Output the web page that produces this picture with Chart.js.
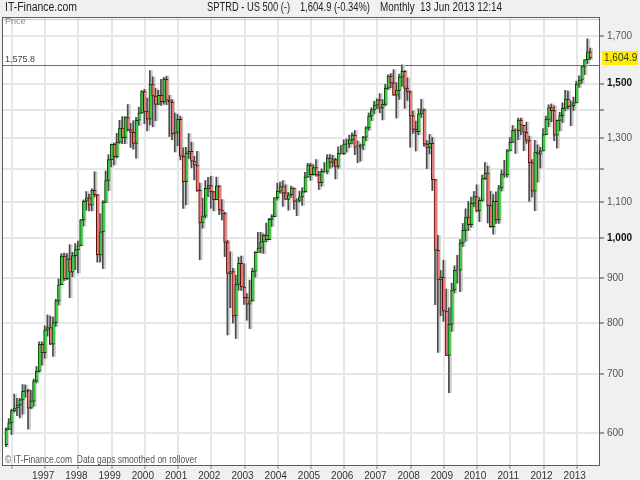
<!DOCTYPE html>
<html><head><meta charset="utf-8">
<style>html,body{margin:0;padding:0;background:#f0f0f0;overflow:hidden}</style>
<script src="https://cdn.jsdelivr.net/npm/chart.js@4.4.1/dist/chart.umd.min.js"></script>
</head><body>
<canvas id="c" width="640" height="480"></canvas>
<script>
// Monthly candles, Nov 1995 .. Jun 2013 (index 0 = Nov 1995)
const open = [
581.5,605.4,
615.9,636.0,640.4,645.5,654.2,669.1,670.6,640.0,652.0,687.3,705.3,757.0,
740.7,786.2,790.8,757.1,801.3,848.3,885.1,954.3,899.5,947.3,914.6,955.4,
970.4,980.3,1049.3,1101.8,1111.8,1090.8,1133.8,1120.7,957.3,1017.0,1098.7,1163.6,
1229.2,1279.6,1238.3,1286.4,1335.2,1301.8,1372.7,1328.7,1320.4,1282.7,1362.9,1388.9,
1469.3,1394.5,1366.4,1498.6,1452.4,1420.6,1454.6,1430.8,1517.7,1436.5,1429.4,1315.0,
1320.3,1366.0,1239.9,1160.3,1249.5,1255.8,1224.4,1211.2,1133.6,1040.9,1059.8,1139.5,
1148.1,1130.2,1106.7,1147.4,1076.9,1067.1,989.8,911.6,916.1,815.3,885.8,936.3,
879.8,855.7,841.2,848.2,916.9,963.6,974.5,990.3,1008.0,996.0,1050.7,1058.2,
1111.9,1131.1,1144.9,1126.2,1107.3,1120.7,1140.8,1101.7,1104.2,1114.6,1130.2,1173.8,
1211.9,1181.3,1203.6,1180.6,1156.9,1191.5,1191.3,1234.2,1220.3,1228.8,1207.0,1249.5,
1248.3,1280.1,1280.7,1294.8,1310.6,1270.1,1270.2,1276.7,1303.8,1335.9,1377.9,1400.6,
1418.3,1438.2,1406.8,1420.9,1482.4,1530.6,1503.4,1455.3,1474.0,1526.8,1549.4,1481.1,
1468.4,1378.6,1330.6,1322.7,1385.6,1400.4,1280.0,1267.4,1282.8,1166.4,968.8,896.2,
903.3,825.9,735.1,797.9,872.8,919.1,919.3,987.5,1020.6,1057.1,1036.2,1095.6,
1115.1,1073.9,1104.5,1169.4,1186.7,1089.4,1030.7,1101.6,1049.3,1141.2,1183.3,1180.6,
1257.6,1286.1,1327.2,1325.8,1363.6,1345.2,1320.6,1292.3,1218.9,1131.4,1253.3,1247.0,
1257.6,1312.4,1365.7,1408.5,1397.9,1310.3,1362.2,1379.3,1406.6,1440.7,1412.2,1416.2,
1426.2,1498.1,1514.7,1569.2,1597.6,1630.7
];
const high = [
608.0,622.9,
638.5,664.2,657.0,656.7,681.1,680.3,672.7,670.7,690.9,714.1,762.1,761.8,
794.7,817.7,814.9,812.9,851.9,898.7,960.3,961.6,960.5,983.1,963.4,986.2,
992.7,1050.7,1105.7,1130.5,1123.0,1138.5,1190.6,1121.7,1066.1,1103.8,1192.9,1244.9,
1280.4,1283.8,1316.6,1362.8,1376.0,1376.4,1420.3,1352.2,1361.4,1373.2,1410.6,1473.1,
1478.0,1444.6,1552.9,1527.2,1481.5,1474.6,1517.3,1525.2,1530.1,1454.8,1438.5,1389.1,
1383.4,1376.4,1267.4,1269.3,1316.0,1286.6,1239.8,1255.9,1155.4,1110.6,1163.4,1173.0,
1176.6,1130.2,1173.9,1147.8,1106.6,1070.7,994.5,965.0,924.0,907.4,951.6,954.3,
935.1,864.6,895.9,924.2,965.4,1015.3,1015.4,1011.0,1040.3,1053.8,1063.7,1112.6,
1155.4,1159.0,1163.2,1150.6,1127.7,1146.3,1140.8,1109.2,1131.5,1142.1,1188.5,1217.3,
1217.8,1212.4,1229.1,1191.9,1199.6,1219.6,1245.2,1245.9,1243.1,1233.3,1270.6,1275.8,
1294.9,1297.6,1310.9,1318.2,1326.7,1290.7,1280.4,1306.7,1340.3,1389.4,1407.9,1431.8,
1441.6,1461.6,1438.9,1498.0,1535.6,1540.6,1555.9,1503.9,1538.7,1576.1,1552.8,1523.6,
1471.8,1396.0,1359.7,1404.6,1440.2,1404.1,1292.2,1313.2,1303.0,1167.0,1007.5,918.9,
943.9,875.0,833.0,888.7,930.2,956.2,996.7,1039.5,1080.2,1101.4,1113.7,1130.4,
1150.5,1112.4,1180.2,1219.8,1208.5,1131.2,1121.0,1129.2,1148.7,1196.1,1227.1,1262.6,
1302.7,1344.1,1332.3,1370.6,1370.6,1345.2,1356.5,1307.4,1229.3,1292.7,1277.6,1269.4,
1333.5,1378.0,1419.2,1422.4,1415.3,1363.5,1391.7,1426.7,1474.5,1471.0,1434.3,1448.0,
1509.9,1530.9,1570.3,1597.6,1687.2,1646.5
];
const low = [
578.5,605.0,
597.3,633.7,627.6,624.1,630.1,658.7,605.9,639.5,643.0,684.0,703.7,716.7,
729.6,773.4,756.1,733.5,793.2,839.1,885.1,894.4,896.9,855.3,903.7,921.0,
912.8,980.3,1032.5,1076.7,1074.4,1074.4,1114.3,939.0,939.7,923.3,1098.7,1132.9,
1205.5,1211.9,1234.7,1282.6,1281.4,1281.4,1324.8,1268.6,1263.0,1233.7,1345.0,1387.4,
1350.1,1325.1,1346.6,1339.4,1361.1,1420.6,1416.5,1421.6,1419.4,1305.8,1294.9,1254.1,
1274.6,1228.3,1081.2,1092.0,1232.0,1203.0,1165.5,1131.0,944.8,1026.8,1054.3,1114.9,
1081.7,1074.4,1106.7,1063.5,1049.0,952.9,775.7,833.4,800.2,768.6,872.6,871.8,
840.3,806.3,788.9,847.9,902.8,963.6,962.1,960.8,990.4,996.0,1031.2,1058.2,
1105.1,1124.4,1087.2,1107.2,1076.3,1113.3,1078.8,1060.7,1099.2,1090.2,1127.6,1173.8,
1163.8,1180.0,1176.9,1136.2,1146.2,1188.3,1183.6,1201.1,1205.4,1168.2,1201.1,1246.6,
1245.7,1253.6,1268.4,1280.7,1245.3,1219.3,1224.5,1261.3,1290.9,1327.1,1361.0,1385.9,
1404.0,1389.4,1364.0,1416.4,1476.7,1484.2,1454.3,1370.6,1439.3,1489.6,1406.1,1435.7,
1270.1,1316.8,1257.0,1312.0,1373.1,1272.0,1200.4,1247.5,1133.5,839.8,741.0,815.7,
804.2,734.5,666.8,783.3,866.1,888.9,869.3,978.5,992.0,1020.2,1029.4,1085.9,
1071.6,1044.5,1101.4,1166.7,1040.8,1028.3,1010.9,1039.7,1039.7,1131.9,1173.0,1173.8,
1257.6,1286.0,1249.1,1294.7,1311.8,1258.1,1282.9,1101.5,1114.2,1074.8,1158.7,1202.4,
1257.6,1312.4,1340.0,1357.4,1292.0,1266.7,1325.4,1354.7,1396.6,1403.3,1343.4,1398.1,
1426.2,1485.0,1501.5,1536.0,1581.3,1598.2
];
const close = [
605.4,615.9,
636.0,640.4,645.5,654.2,669.1,670.6,640.0,652.0,687.3,705.3,757.0,740.7,
786.2,790.8,757.1,801.3,848.3,885.1,954.3,899.5,947.3,914.6,955.4,970.4,
980.3,1049.3,1101.8,1111.8,1090.8,1133.8,1120.7,957.3,1017.0,1098.7,1163.6,1229.2,
1279.6,1238.3,1286.4,1335.2,1301.8,1372.7,1328.7,1320.4,1282.7,1362.9,1388.9,1469.3,
1394.5,1366.4,1498.6,1452.4,1420.6,1454.6,1430.8,1517.7,1436.5,1429.4,1315.0,1320.3,
1366.0,1239.9,1160.3,1249.5,1255.8,1224.4,1211.2,1133.6,1040.9,1059.8,1139.5,1148.1,
1130.2,1106.7,1147.4,1076.9,1067.1,989.8,911.6,916.1,815.3,885.8,936.3,879.8,
855.7,841.2,848.2,916.9,963.6,974.5,990.3,1008.0,996.0,1050.7,1058.2,1111.9,
1131.1,1144.9,1126.2,1107.3,1120.7,1140.8,1101.7,1104.2,1114.6,1130.2,1173.8,1211.9,
1181.3,1203.6,1180.6,1156.9,1191.5,1191.3,1234.2,1220.3,1228.8,1207.0,1249.5,1248.3,
1280.1,1280.7,1294.8,1310.6,1270.1,1270.2,1276.7,1303.8,1335.9,1377.9,1400.6,1418.3,
1438.2,1406.8,1420.9,1482.4,1530.6,1503.4,1455.3,1474.0,1526.8,1549.4,1481.1,1468.4,
1378.6,1330.6,1322.7,1385.6,1400.4,1280.0,1267.4,1282.8,1166.4,968.8,896.2,903.3,
825.9,735.1,797.9,872.8,919.1,919.3,987.5,1020.6,1057.1,1036.2,1095.6,1115.1,
1073.9,1104.5,1169.4,1186.7,1089.4,1030.7,1101.6,1049.3,1141.2,1183.3,1180.6,1257.6,
1286.1,1327.2,1325.8,1363.6,1345.2,1320.6,1292.3,1218.9,1131.4,1253.3,1247.0,1257.6,
1312.4,1365.7,1408.5,1397.9,1310.3,1362.2,1379.3,1406.6,1440.7,1412.2,1416.2,1426.2,
1498.1,1514.7,1569.2,1597.6,1630.7,1604.9
];
// January of each year (month index) and its label
const yearTickIndex = [2,14,26,38,50,62,74,86,98,110,122,134,146,158,170,182,194,206];
const yearTickLabels = ['','1997','1998','1999','2000','2001','2002','2003','2004','2005','2006','2007','2008','2009','2010','2011','2012','2013'];
const priceTicks = [600,700,800,900,1000,1100,1200,1300,1400,1500,1700];
const priceTickLabels = ['600','700','800','900','1,000','1,100','','1,300','','1,500','1,700'];
const boldTicks = [1000,1500];
const refLevel = 1575.8;
const lastPrice = 1604.9;

const FONT = "'Liberation Sans Narrow','Liberation Sans',Arial,sans-serif";
const UP = '#3ccb3c', UPB = '#0d3a0d', DN = '#e47a7a', DNB = '#5a0a0a';

const shadowData = close.map((c, i) => ({x: i + 0.4, y: [low[i], high[i]]}));
const wickData = close.map((c, i) => ({x: i - 0.2, y: [low[i], high[i]]}));
const bodyData = close.map((c, i) => ({x: i, y: [Math.min(open[i], c), Math.max(open[i], c)]}));
const bodyFill = close.map((c, i) => c >= open[i] ? UP : DN);
const bodyLine = close.map((c, i) => c >= open[i] ? UPB : DNB);

function fitText(ctx, text, x, y, w, font, color) {
  ctx.save();
  ctx.font = font; ctx.fillStyle = color; ctx.textBaseline = 'middle'; ctx.textAlign = 'left';
  const m = ctx.measureText(text).width;
  ctx.translate(x, y);
  if (w && m > 0) ctx.scale(w / m, 1);
  ctx.fillText(text, 0, 0);
  ctx.restore();
}

const decor = {
  id: 'decor',
  beforeDraw(chart) {
    const {ctx, chartArea: a} = chart;
    ctx.save();
    ctx.fillStyle = '#f0f0f0'; ctx.fillRect(0, 0, chart.width, chart.height);
    ctx.fillStyle = '#ffffff'; ctx.fillRect(a.left, a.top, a.right - a.left, a.bottom - a.top);
    ctx.restore();
  },
  beforeDatasetsDraw(chart) {
    const {ctx, chartArea: a, scales: {y}} = chart;
    const py = Math.round(y.getPixelForValue(refLevel)) + 0.5;
    ctx.save();
    ctx.strokeStyle = '#6e6e6e'; ctx.lineWidth = 1;
    ctx.beginPath(); ctx.moveTo(a.left, py); ctx.lineTo(a.right, py); ctx.stroke();
    ctx.restore();
  },
  afterDraw(chart) {
    const {ctx, chartArea: a, scales: {y}} = chart;
    ctx.save();
    ctx.strokeStyle = '#c8c8c8'; ctx.lineWidth = 1;
    ctx.beginPath(); ctx.moveTo(a.left, a.top + 2.5); ctx.lineTo(a.right, a.top + 2.5); ctx.stroke();
    ctx.strokeStyle = '#5c5c5c';
    ctx.strokeRect(a.left + 0.5, a.top + 0.5, a.right - a.left - 1, a.bottom - a.top - 1);
    ctx.restore();
    fitText(ctx, 'IT-Finance.com', 5, 8, 72, '12px ' + FONT, '#222');
    fitText(ctx, 'SPTRD - US 500 (-)', 207, 8, 83, '12px ' + FONT, '#222');
    fitText(ctx, '1,604.9 (-0.34%)', 300, 8, 70, '12px ' + FONT, '#222');
    fitText(ctx, 'Monthly  13 Jun 2013 12:14', 380, 8, 122, '12px ' + FONT, '#222');
    fitText(ctx, 'Price', 5, 22, 0, '9px ' + FONT, '#888');
    const ry = y.getPixelForValue(refLevel);
    fitText(ctx, '1,575.8', 5, ry - 5, 0, '9px ' + FONT, '#444');
    fitText(ctx, '\u00a9 IT-Finance.com  Data gaps smoothed on rollover', 5, 460, 192, '10px ' + FONT, '#555');
    const ly = y.getPixelForValue(lastPrice);
    ctx.save();
    ctx.fillStyle = '#ffee00';
    ctx.fillRect(602, Math.round(ly) - 7, 36, 14);
    ctx.restore();
    fitText(ctx, '1,604.9', 604, ly, 0, '10px ' + FONT, '#333');
  }
};

new Chart(document.getElementById('c'), {
  type: 'bar',
  data: {
    datasets: [
      {data: shadowData, backgroundColor: '#cdcdcd', barThickness: 2, grouped: false, order: 3, borderWidth: 0},
      {data: wickData, backgroundColor: '#4a4a4a', barThickness: 1, grouped: false, order: 2, borderWidth: 0},
      {data: bodyData, backgroundColor: bodyFill, borderColor: bodyLine,
       borderWidth: {left: 1, top: 1, bottom: 1, right: 0}, borderSkipped: false,
       barThickness: 3, grouped: false, order: 1}
    ]
  },
  options: {
    responsive: false, animation: false, devicePixelRatio: 1,
    layout: {padding: {top: 17, left: 2, right: 0, bottom: 0}},
    plugins: {legend: {display: false}, tooltip: {enabled: false}},
    scales: {
      x: {
        type: 'linear', min: -1.6, max: 214.4, offset: false,
        afterBuildTicks: s => { s.ticks = yearTickIndex.map(v => ({value: v})); },
        afterFit: s => { s.height = 14; },
        grid: {offset: false, color: '#e6e6e6', lineWidth: 2, drawTicks: true, tickLength: 3, tickColor: '#bbbbbb'},
        border: {display: false},
        ticks: {autoSkip: false, maxRotation: 0, padding: 1, color: '#333', labelOffset: -2,
          font: {family: FONT, size: 10},
          callback: (v, i) => yearTickLabels[i]}
      },
      y: {
        type: 'logarithmic', position: 'right', min: 550, max: 1787,
        afterBuildTicks: s => { s.ticks = priceTicks.map(v => ({value: v})); },
        afterFit: s => { s.width = 40; },
        grid: {color: '#e6e6e6', lineWidth: 2, tickLength: 4, tickColor: '#999999'},
        border: {display: false},
        ticks: {padding: 3,
          color: c => boldTicks.includes(c.tick && c.tick.value) ? '#111' : '#555',
          font: c => ({family: FONT, size: 10, weight: boldTicks.includes(c.tick && c.tick.value) ? 'bold' : 'normal'}),
          callback: (v, i) => priceTickLabels[i]}
      }
    }
  },
  plugins: [decor]
});
</script>
</body></html>
